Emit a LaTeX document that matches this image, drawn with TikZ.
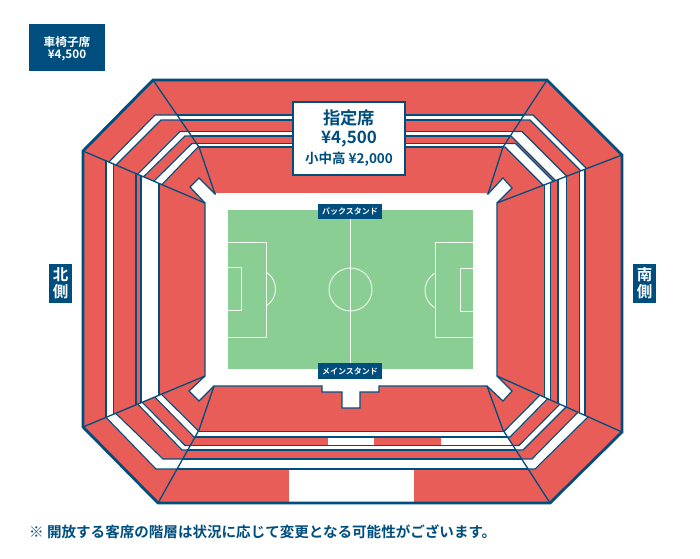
\documentclass[tikz,border=0pt]{standalone}
\usepackage{fontspec}
\setmainfont{Noto Sans CJK JP}[BoldFont=* Bold]
\definecolor{navy}{HTML}{004E7E}
\definecolor{seatred}{HTML}{E95D58}
\definecolor{pitch}{HTML}{8BCE93}
\newcommand{\seat}[2]{\fill[seatred] #1;\begin{scope}\clip #1;#2\end{scope}}
\newcommand{\fs}[1]{\fontsize{#1}{#1}\selectfont\bfseries}
\tikzset{
  band/.style={fill=white,draw=navy,line width=1.1pt},
  sliver/.style={draw=navy,line width=1.1pt},
  secline/.style={draw=navy,line width=1.3pt,line join=round},
  pline/.style={draw=white,line width=0.9pt,opacity=.9},
  tag/.style={fill=navy,text=white,inner sep=0pt,draw=none,align=center},
}
\begin{document}
\begin{tikzpicture}[x=1pt,y=-1pt]
\useasboundingbox (0,0) rectangle (700,558);
% sections
\seat{(153,80)--(547,80)--(503,147)--(488,194)--(215,194)--(199,147)--cycle}{
  \draw[band] (100,115) rectangle (600,120);
  \draw[band] (100,131.5) rectangle (600,136);
  \draw[band] (100,143.5) rectangle (600,147);
}
\seat{(153,80)--(199,147)--(215,194)--(205,203)--(83,151)--cycle}{
  \draw[band] (230,115)--(155,115)--(98,173)--(105,176)--(161,120)--(230,120)--cycle;
  \draw[band] (230,131.5)--(180,131.5)--(127,185)--(132,188)--(185,136)--(230,136)--cycle;
  \draw[band] (230,143.5)--(192,143.5)--(143,192)--(150,197)--(198,147)--(230,147)--cycle;
}
\seat{(547,80)--(622,155)--(497,203)--(488,194)--(503,147)--cycle}{
  \draw[band] (470,115)--(533,115)--(595,177)--(590,180)--(530,120)--(470,120)--cycle;
  \draw[band] (470,131.5)--(522,131.5)--(577,186.5)--(567,192)--(511,136)--(470,136)--cycle;
  \draw[band] (470,143.5)--(515.5,143.5)--(565,193)--(555,197)--(505,147)--(470,147)--cycle;
}
\seat{(83,151)--(205,203)--(205,376)--(83,427)--cycle}{
  \draw[band] (106,140) rectangle (113.5,440);
  \draw[sliver] (136,140) rectangle (141,440);
  \draw[band] (141,140) rectangle (159,440);
}
\seat{(622,155)--(622,432)--(497,376)--(497,203)--cycle}{
  \draw[band] (544.5,140) rectangle (550.5,440);
  \draw[band] (558,140) rectangle (566.5,440);
  \draw[band] (579.5,140) rectangle (585,440);
}
\seat{(158,503)--(83,427)--(205,376)--(214,386)--(199,430)--cycle}{
  \draw[band] (230,469)--(156,469)--(96,407)--(105,403)--(163,459)--(230,459)--cycle;
  \draw[band] (230,450)--(182,450)--(127,393)--(132,392)--(185,445.5)--(230,445.5)--cycle;
  \draw[band] (230,437)--(194,437)--(143,385)--(149,382)--(199,431.5)--(230,431.5)--cycle;
}
\seat{(622,432)--(550,503)--(503,430)--(487,386)--(497,376)--cycle}{
  \draw[band] (470,469)--(535,469)--(595,410)--(589,401)--(532,459)--(470,459)--cycle;
  \draw[band] (470,450)--(523,450)--(578,395)--(569,395)--(519,445.5)--(470,445.5)--cycle;
  \draw[band] (470,437)--(510,437)--(560,386)--(553,382)--(504,431.5)--(470,431.5)--cycle;
}
\seat{(550,503)--(158,503)--(199,430)--(214,386)--(487,386)--(503,430)--cycle}{
  \fill[white] (328,437) rectangle (374,445.5);
  \fill[white] (441,437) rectangle (520,445.5);
  \draw[band] (100,431.5) rectangle (600,437);
  \draw[band] (100,445.5) rectangle (600,450);
  \draw[band] (100,459) rectangle (600,469);
  \fill[white] (289,469.6) rectangle (414,503);
}
% court
\draw[fill=white,draw=navy,line width=1.2pt,line join=miter]
  (215,194)--(199,178)--(190,187)--(205,203)--(205,376)--(189,391)--(199,401)--(214,386)
  --(322,386)--(322,392)--(342,392)--(342,408)--(360,408)--(360,392)--(379,392)--(379,386)
  --(487,386)--(503,401)--(512,391)--(497,376)--(497,203)--(512,188)--(503,178)--(488,194)--cycle;
\draw[white,line width=1.4pt] (216,194)--(487,194);
% section lines
\draw[secline] (153,80)--(199,147)--(215,194);
\draw[secline] (547,80)--(503,147)--(488,194);
\draw[secline] (83,151)--(205,203);
\draw[secline] (622,155)--(497,203);
\draw[secline] (83,427)--(205,376);
\draw[secline] (622,432)--(497,376);
\draw[secline] (158,503)--(199,430)--(214,386);
\draw[secline] (550,503)--(503,430)--(487,386);
% outer
\draw[navy,line width=2.8pt,line join=miter]
  (153,80)--(547,80)--(622,155)--(622,432)--(550,503)--(158,503)--(83,427)--(83,151)--cycle;
% pitch
\fill[pitch] (228,210) rectangle (473,369);
\draw[pline] (350.5,210)--(350.5,369);
\draw[pline] (350.5,289.5) circle[radius=21.5pt];
\draw[pline] (228,242.5)--(266,242.5)--(266,337)--(228,337);
\draw[pline] (228,267.5)--(241.5,267.5)--(241.5,310)--(228,310);
\draw[pline] (473,242.5)--(435,242.5)--(435,337)--(473,337);
\draw[pline] (473,268.5)--(460.5,268.5)--(460.5,311)--(473,311);
\begin{scope}\clip (266.3,250) rectangle (290,330);
\draw[pline] (255.5,289) circle[radius=20pt];\end{scope}
\begin{scope}\clip (410,250) rectangle (434.7,330);
\draw[pline] (445,290.5) circle[radius=20pt];\end{scope}
% labels
\node[tag,minimum width=64pt,minimum height=15.5pt] (back) at (350,211.5) {\fs{8}バックスタンド};
\node[tag,minimum width=64pt,minimum height=15.5pt] (main) at (350,371) {\fs{8}メインスタンド};
\node[fill=white,draw=navy,line width=2.4pt,minimum width=112pt,minimum height=73pt,inner sep=0pt] (shitei) at (349,138.5) {};
\node[text=navy] (t1) at (349,118) {\fs{17.3}指定席};
\node[text=navy] (t2) at (349,139) {\fs{17}¥4,500};
\node[text=navy] (t3) at (349,159) {\fs{13.5}小中高 ¥2,000};
\node[tag,minimum width=76pt,minimum height=47pt] (wheel) at (67,47.5) {};
\node[text=white] (w1) at (67,42) {\fs{11.7}車椅子席};
\node[text=white] (w2) at (67,55.5) {\fs{11.7}¥4,500};
\node[tag,minimum width=23pt,minimum height=39pt] (north) at (60.5,283.5) {};
\node[text=white] (n1) at (60.5,275) {\fs{15.5}北};
\node[text=white] (n2) at (60.5,292) {\fs{15.5}側};
\node[tag,minimum width=23pt,minimum height=39pt] (south) at (644.5,283.5) {};
\node[text=white] (s1) at (644.5,275) {\fs{15.5}南};
\node[text=white] (s2) at (644.5,292) {\fs{15.5}側};
\node[text=navy,anchor=west,inner sep=0pt] (note) at (29,532) {\fs{14.55}※ 開放する客席の階層は状況に応じて変更となる可能性がございます。};
\end{tikzpicture}
\end{document}
